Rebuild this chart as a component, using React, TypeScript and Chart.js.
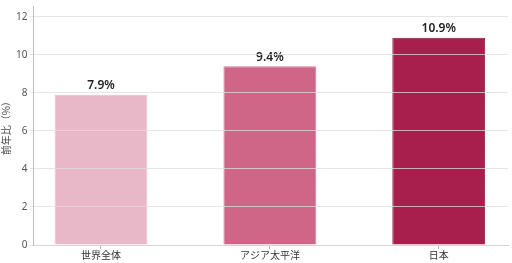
import React, { useEffect, useRef } from "react";
import { Chart, registerables } from "chart.js";

Chart.register(...registerables);

// Growth vs. previous year, by region
const categories = ["世界全体", "アジア太平洋", "日本"];
const growthPct = [7.9, 9.4, 10.9];
const barColors = ["#e8b8c8", "#cf6688", "#a81f4e"];
const borderColors = ["#ebbfcd", "#d67b98", "#8c1240"];
const yTicks = [0, 2, 4, 6, 8, 10, 12];
const yTitle = "前年比（%）";

const valueLabels = {
  id: "valueLabels",
  afterDatasetsDraw(chart: any) {
    const { ctx } = chart;
    const meta = chart.getDatasetMeta(0);
    ctx.save();
    ctx.font = "600 12px 'Noto Sans', sans-serif";
    ctx.fillStyle = "#222";
    ctx.textAlign = "center";
    ctx.textBaseline = "bottom";
    meta.data.forEach((bar: any, i: number) => {
      ctx.fillText(growthPct[i].toFixed(1) + "%", bar.x, bar.y - 3);
    });
    ctx.restore();
  },
};

export default function App() {
  const canvasRef = useRef<HTMLCanvasElement | null>(null);

  useEffect(() => {
    if (!canvasRef.current) return;
    const chart = new Chart(canvasRef.current, {
      type: "bar",
      data: {
        datasets: [
          {
            data: growthPct.map((v, i) => ({ x: i, y: v })),
            backgroundColor: barColors,
            borderColor: borderColors,
            borderWidth: 1,
            barPercentage: 0.55,
            categoryPercentage: 1,
          },
        ],
      },
      options: {
        animation: false,
        responsive: false,
        maintainAspectRatio: false,
        layout: { padding: { top: 0, right: 4, left: 0, bottom: 2 } },
        plugins: {
          legend: { display: false },
          tooltip: { enabled: false },
        },
        scales: {
          x: {
            type: "linear",
            offset: false,
            min: -0.4,
            max: 2.41,
            afterBuildTicks: (scale: any) => {
              scale.ticks = categories.map((_, i) => ({ value: i }));
            },
            grid: {
              offset: false,
              drawOnChartArea: false,
              drawTicks: true,
              tickLength: 4,
              color: "#bbbbbb",
            },
            border: { color: "#bbbbbb" },
            ticks: {
              autoSkip: false,
              maxRotation: 0,
              padding: 0,
              color: "#333",
              font: { family: "'Noto Sans CJK JP', sans-serif", size: 10 },
              callback: (v: any) => {
                const idx = Math.round(Number(v));
                return categories[idx] !== undefined ? categories[idx] : "";
              },
            },
          },
          y: {
            min: 0,
            max: 12.55,
            afterBuildTicks: (scale: any) => {
              scale.ticks = yTicks.map((v) => ({ value: v }));
            },
            grid: {
              color: "rgba(222,222,222,0.75)",
              lineWidth: 1,
              z: 1,
              drawTicks: true,
              tickLength: 4,
            },
            border: { color: "#bbbbbb", display: true, z: 2 },
            ticks: {
              color: "#555",
              padding: 2,
              font: { family: "'Noto Sans', sans-serif", size: 10, lineHeight: 0.9 },
            },
            title: {
              display: true,
              text: yTitle,
              color: "#444",
              padding: { top: 0, bottom: 2 },
              font: { family: "'Noto Sans CJK JP', sans-serif", size: 10 },
            },
          },
        },
      },
      plugins: [valueLabels],
    });
    return () => chart.destroy();
  }, []);

  return (
    <div style={{ position: "fixed", left: 0, top: 0, width: 512, height: 263, background: "#fff" }}>
      <canvas ref={canvasRef} width={512} height={263} />
    </div>
  );
}
